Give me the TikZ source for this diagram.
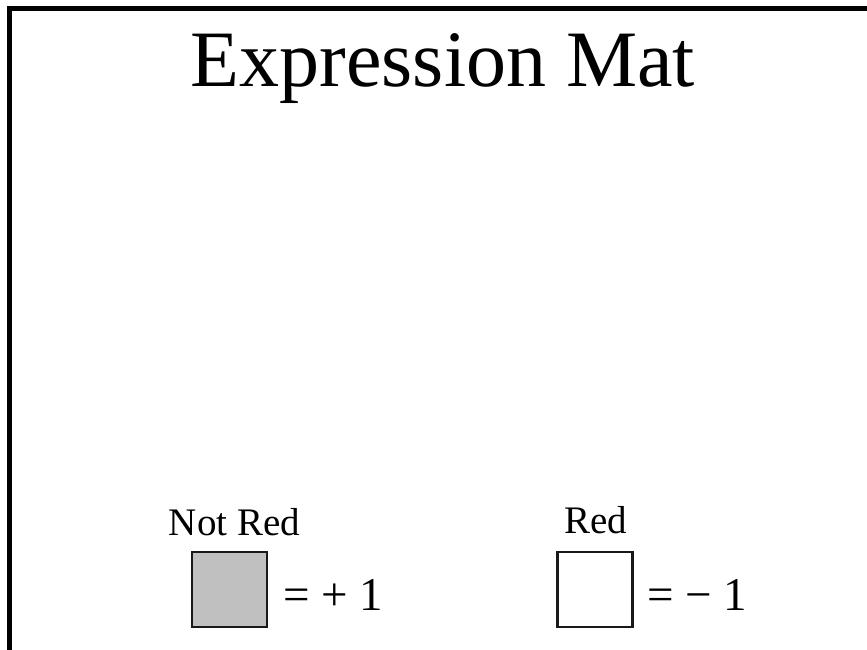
\documentclass[tikz,border=0pt]{standalone}
\usepackage{fontspec}
\setmainfont{Liberation Serif}
\usetikzlibrary{positioning}
\definecolor{notredc}{RGB}{192,192,192}
\tikzset{
  cell/.style={rectangle,draw=black!90,line width=2.5pt,minimum size=75pt,inner sep=0pt},
  tag/.style={font=\fontsize{39}{42}\selectfont,inner sep=0pt,anchor=base},
  val/.style={font=\fontsize{47}{52}\selectfont,inner sep=0pt,anchor=base west},
  edgeline/.style={line width=5pt,black},
}
\begin{document}
\begin{tikzpicture}[x=1pt,y=-1pt]
  \useasboundingbox (0,0) rectangle (867,650);
  % frame
  \draw[edgeline] (9.5,670) -- (9.5,8.5) -- (890,8.5);
  \node[font=\fontsize{80}{90}\selectfont,anchor=base,inner sep=0pt] (title) at (443,87) {Expression Mat};
  % legend
  \node[cell,fill=notredc] (notred) at (229.5,589.5){}; \node[cell,fill=white] (red) at (595,589.5){};
  \node[tag] (notredtag) at (234.5,535) {Not Red};
  \node[tag] (redtag) at (595.5,533) {Red};
  \node[val] (plusone) at (283,610) {= + 1};
  \node[val] (minusone) at (647,610) {= − 1};
\end{tikzpicture}
\end{document}
